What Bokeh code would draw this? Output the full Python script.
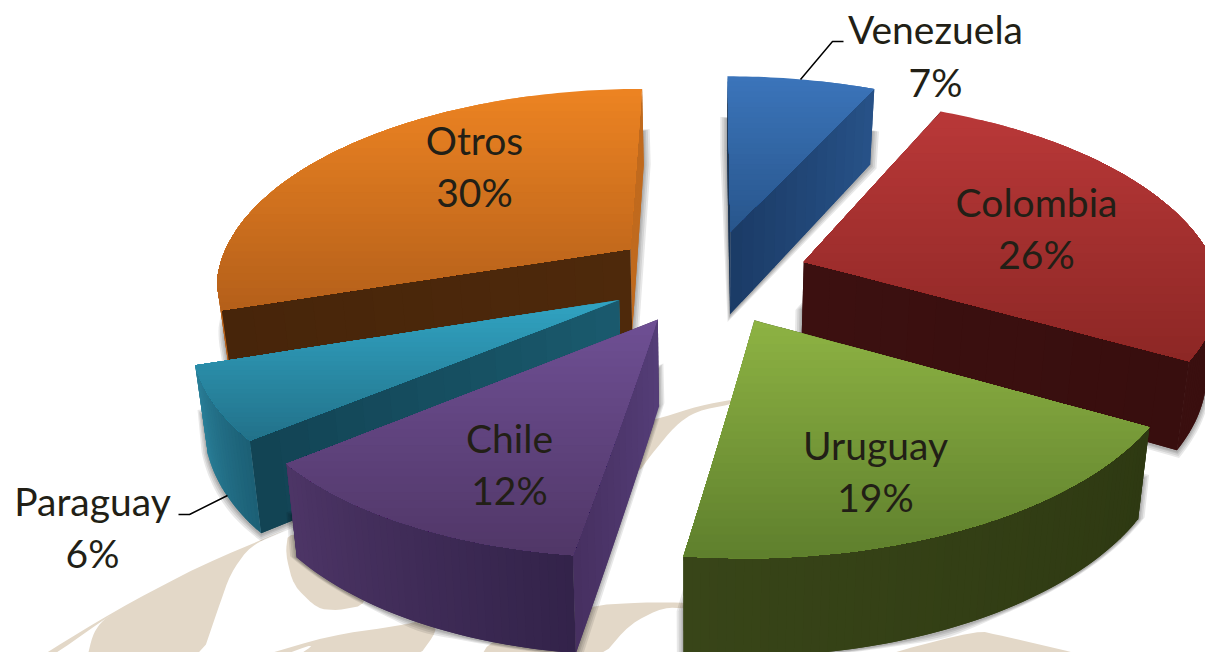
import numpy as np
from bokeh.plotting import figure
from bokeh.models import ColumnDataSource, Range1d
from bokeh.core.properties import value
from bokeh.embed import file_html
from bokeh.resources import INLINE

# ---- data ----
categories = ["Venezuela", "Colombia", "Uruguay", "Chile", "Paraguay", "Otros"]
shares = [7, 26, 19, 12, 6, 30]

# ---- style ----
TOP = {"Venezuela": ("#3B74BA", "#28568C"), "Colombia": ("#B93838", "#8D2725"),
       "Uruguay": ("#8DB243", "#5F802D"), "Chile": ("#6E4F93", "#513768"),
       "Paraguay": ("#31A3C2", "#22728A"), "Otros": ("#EC8322", "#B5601A")}
# colours of the wall at the slice's first / last angle, each (apex, outer)
WALL_A = {"Venezuela": ("#163050", "#163050"), "Colombia": ("#3A0F0F", "#3A0F0F"),
          "Uruguay": ("#2E3B14", "#2E3B14"), "Chile": ("#553D78", "#463060"),
          "Paraguay": ("#1A5A6E", "#124353"), "Otros": ("#4E290B", "#47250A")}
WALL_B = {"Venezuela": ("#1B3B66", "#275288"), "Colombia": ("#3C1010", "#380E0E"),
          "Uruguay": ("#3D4B1B", "#3D4B1B"), "Chile": ("#46305F", "#46305F"),
          "Paraguay": ("#2A7F98", "#2A7F98"), "Otros": ("#C06A1E", "#C06A1E")}
RIM = {"Venezuela": ("#275288", "#275288"), "Colombia": ("#3A0F0F", "#3A0F0F"),
       "Uruguay": ("#2E3912", "#384518"), "Chile": ("#33234A", "#4D3566"),
       "Paraguay": ("#1C6076", "#2A7F98"), "Otros": ("#B5601B", "#C06A1E")}
PAINT_ORDER = ["Otros", "Venezuela", "Colombia", "Paraguay", "Chile", "Uruguay"]
RIM_BEFORE_WALLS = {"Otros"}
TAN = "#E3D8C8"
TEXT = "#221F16"
LABEL_POS = {"Venezuela": (935, 28, 81), "Colombia": (1036, 201, 253), "Uruguay": (875, 444, 496),
             "Chile": (509, 437, 489), "Paraguay": (92, 500, 552), "Otros": (474, 139, 191)}
LEADERS = [([800, 832, 843], [79, 41, 41]), ([227, 189, 178], [495, 514, 514])]
WATERMARK = [
    [(33, 660), (115, 610), (200, 565), (295, 525), (250, 545), (230, 573), (217, 610), (200, 660),
     (86, 660), (92, 635), (100, 622), (114, 612), (45, 660)],
    [(288, 530), (285, 553), (293, 585), (317, 608), (337, 610), (367, 604), (367, 550)],
    [(245, 660), (330, 635), (400, 625), (430, 618), (437, 630), (415, 660), (290, 660), (317, 642), (268, 660)],
    [(478, 660), (490, 640), (590, 605), (640, 602), (690, 602), (690, 608), (663, 607), (630, 623), (598, 660)],
    [(652, 420), (700, 405), (738, 398), (738, 402), (695, 411), (675, 425), (650, 455), (636, 475), (636, 420)],
    [(880, 655), (977, 630), (1000, 635), (1095, 657), (1095, 670), (880, 670)],
]


def chaikin(pts, rounds=2):
    for _ in range(rounds):
        out = []
        for i in range(len(pts)):
            a, b = pts[i], pts[(i + 1) % len(pts)]
            out.append((0.8 * a[0] + 0.2 * b[0], 0.8 * a[1] + 0.2 * b[1]))
            out.append((0.2 * a[0] + 0.8 * b[0], 0.2 * a[1] + 0.8 * b[1]))
        pts = out
    return pts


# ---- projection of the exploded pie ----
CX, CY, AX, BY = 709, 276, 415, 198
KX_BACK, KX_FRONT, KY_BACK, KY_FRONT = 0.18, 0.125, 0.18, 0.12
HZ, KZ, EXPL, SHRINK, SHEAR_LIN, SHEAR_SQ = 85, 0.11, 0.242, 0.025, 8, 6


def project(X, Y, z=0.0):
    kx = KX_BACK if Y > 0 else KX_FRONT
    ky = KY_BACK if Y > 0 else KY_FRONT
    front = min(Y, 0)
    sx = AX * X / (1 + kx * Y) * (1 - SHRINK * z) + SHEAR_LIN * front - SHEAR_SQ * front ** 2
    return CX + sx, CY - BY * Y / (1 + ky * Y) + z * HZ / (1 + KZ * Y)


def hex2rgb(h):
    return np.array([int(h[i:i + 2], 16) for i in (1, 3, 5)], float)


def mix(a, b, t):
    c = hex2rgb(a) * (1 - t) + hex2rgb(b) * t
    return "#%02x%02x%02x" % tuple(int(round(v)) for v in c)


def clip_below(pts, yk):
    out = []
    for i in range(len(pts)):
        a, b = pts[i], pts[(i + 1) % len(pts)]
        ina, inb = a[1] >= yk, b[1] >= yk
        if ina:
            out.append(a)
        if ina != inb:
            t = (yk - a[1]) / (b[1] - a[1])
            out.append((a[0] + t * (b[0] - a[0]), yk))
    return out


def hull(pts):
    pts = sorted(set(pts))
    def half(ps):
        h = []
        for q in ps:
            while len(h) > 1 and (h[-1][0] - h[-2][0]) * (q[1] - h[-2][1]) - (h[-1][1] - h[-2][1]) * (q[0] - h[-2][0]) <= 0:
                h.pop()
            h.append(q)
        return h[:-1]
    return half(pts) + half(pts[::-1])


polys = {"xs": [], "ys": [], "color": [], "alpha": []}


def add(pts, color, alpha=1.0):
    polys["xs"].append([float(p[0]) for p in pts])
    polys["ys"].append([float(p[1]) for p in pts])
    polys["color"].append(color)
    polys["alpha"].append(alpha)


for shape in WATERMARK:
    add(chaikin(shape), TAN)

edges = np.cumsum([0] + shares) / sum(shares) * 2 * np.pi
slices = {}
for i, name in enumerate(categories):
    slices[name] = (edges[i], edges[i + 1])

for name in PAINT_ORDER:
    t0, t1 = slices[name]
    mid = (t0 + t1) / 2
    ox, oy = EXPL * np.sin(mid), EXPL * np.cos(mid)
    th = np.linspace(t0, t1, max(10, int(np.degrees(t1 - t0))))
    wx, wy = ox + np.sin(th), oy + np.cos(th)

    # soft shadow of the lower part of the slice
    low = [project(x, y, 1.0) for x, y in zip(wx, wy)] + [project(ox, oy, 1.0)]
    low += [project(x, y, 0.55) for x, y in zip(wx, wy)] + [project(ox, oy, 0.55)]
    h = hull([(float(a), float(b)) for a, b in low])
    cxs, cys = np.mean([p[0] for p in h]), np.mean([p[1] for p in h])
    for d in (7, 5, 3, 1.5):
        sh = []
        for a, b in h:
            n = np.hypot(a - cxs, b - cys)
            sh.append((a + (a - cxs) / n * d, b + (b - cys) / n * d + 1))
        add(sh, "#000000", 0.09)

    def draw_rim():
        for j in range(len(th) - 1):
            if np.cos(th[j]) < 0.1 or np.cos(th[j + 1]) < 0.1:
                k = min(j + 2, len(th) - 1)
                q = [project(wx[j], wy[j]), project(wx[k], wy[k]),
                     project(wx[k], wy[k], 1.0), project(wx[j], wy[j], 1.0)]
                add(q, mix(RIM[name][0], RIM[name][1], j / (len(th) - 2)))

    if name in RIM_BEFORE_WALLS:
        draw_rim()

    # radial walls, the farther one first
    walls = [(t0, WALL_A[name]), (t1, WALL_B[name])]
    walls.sort(key=lambda w: -np.cos(w[0]))
    for tw, (ca, cb) in walls:
        n = 14
        ts = np.linspace(0, 1, n + 1)
        for j in range(n):
            u, v = ts[j], ts[min(j + 2, n)]
            a = (ox + u * np.sin(tw), oy + u * np.cos(tw))
            b = (ox + v * np.sin(tw), oy + v * np.cos(tw))
            add([project(*a), project(*b), project(*b, 1.0), project(*a, 1.0)], mix(ca, cb, (j + .5) / n))

    if name not in RIM_BEFORE_WALLS:
        draw_rim()

    # top face with a vertical gradient; the radial edges follow the walls' points
    us = np.linspace(0, 1, 15)
    face = [project(ox + u * np.sin(t0), oy + u * np.cos(t0)) for u in us]
    face += [project(x, y) for x, y in zip(wx, wy)]
    face += [project(ox + u * np.sin(t1), oy + u * np.cos(t1)) for u in us[::-1][1:]]
    face = [(float(a), float(b)) for a, b in face]
    ymin, ymax = min(p[1] for p in face), max(p[1] for p in face)
    add(face, TOP[name][0])
    n = 30
    for j in range(1, n):
        yk = ymin + (ymax - ymin) * j / n
        part = clip_below(face, yk)
        if len(part) >= 3:
            add(part, mix(TOP[name][0], TOP[name][1], j / (n - 1)))

W, H = 1205, 652
p = figure(width=W, height=H, x_range=Range1d(0, W), y_range=Range1d(H, 0),
           output_backend="svg", toolbar_location=None, min_border=0, outline_line_color=None)
p.axis.visible = False
p.grid.visible = False
p.patches("xs", "ys", source=ColumnDataSource(polys), fill_color="color", fill_alpha="alpha", line_color=None)

for lx, ly in LEADERS:
    p.line(lx, ly, line_color="#000000", line_width=1.5)

tx, ty, tt = [], [], []
for name, share in zip(categories, shares):
    x, y1, y2 = LABEL_POS[name]
    tx += [x, x]
    ty += [y1, y2]
    tt += [name, f"{share}%"]
p.text(tx, ty, text=tt, text_font=value("Lato"), text_font_size="39px", text_color=TEXT,
       text_align="center", text_baseline="middle")

open("out.html", "w").write(file_html(p, INLINE))
